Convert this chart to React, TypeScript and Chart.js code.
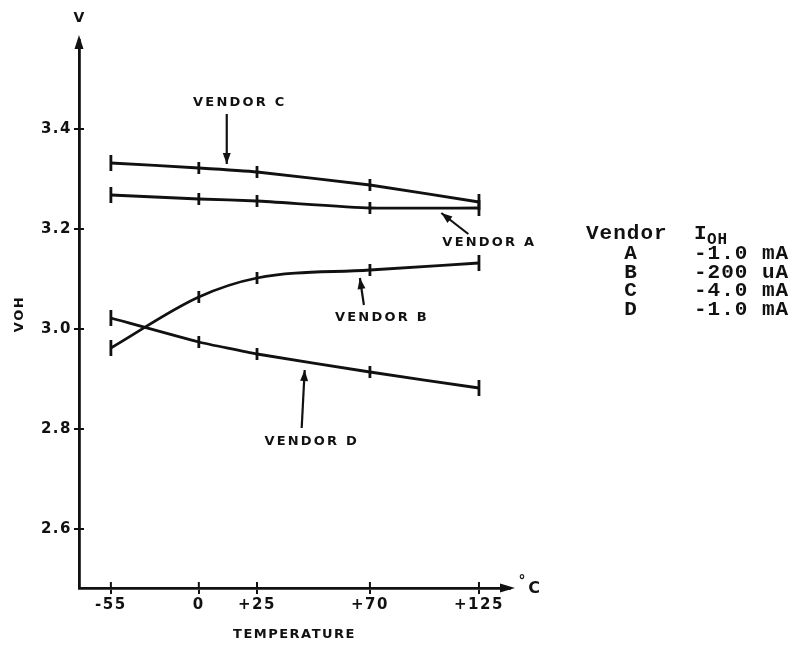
import React, { useEffect, useRef } from 'react';
import { Chart, registerables, LinearScale } from 'chart.js';

// ---------- data ----------
const TEMPERATURES = [-55, 0, 25, 70, 125];
const X_TICK_LABELS = ['-55', '0', '+25', '+70', '+125'];
const Y_TICKS = [2.6, 2.8, 3.0, 3.2, 3.4];

const VENDOR_A = [3.268, 3.26, 3.256, 3.242, 3.242];
const VENDOR_B = [2.962, 3.064, 3.102, 3.118, 3.132];
const VENDOR_C = [3.332, 3.322, 3.314, 3.288, 3.254];
const VENDOR_D = [3.022, 2.974, 2.95, 2.914, 2.882];

const CALLOUT_LABELS = ['VENDOR C', 'VENDOR A', 'VENDOR B', 'VENDOR D'];
const CALLOUT_TEMPS = [12, 106, 66, 44];
const CALLOUT_VOLTS = [3.33, 3.232, 3.102, 2.918];

const TABLE_VENDORS = ['A', 'B', 'C', 'D'];
const TABLE_IOH = ['-1.0 mA', '-200 uA', '-4.0 mA', '-1.0 mA'];

// ---------- layout / style ----------
const INK = '#111';
// where each temperature tick sits along the (hand drawn, non-uniform) axis, as a fraction of its length
const X_TICK_FRACTIONS = [0.074, 0.278, 0.413, 0.675, 0.928];
// callout geometry: offset of arrow tail and of label centre from the arrow tip (px)
const CALLOUT_LAYOUT = [
  { tail: [0, -50], text: [12, -61] },
  { tail: [27, 21], text: [47, 30] },
  { tail: [4, 27], text: [21, 40] },
  { tail: [-3, 58], text: [6, 72] },
];

class PiecewiseScale extends LinearScale {
  static id = 'piecewise';
  static defaults = { ...(LinearScale as any).defaults };

  toDecimal(v: number): number {
    const vals: number[] = (this.options as any).breakValues;
    const fr: number[] = (this.options as any).breakFractions;
    let i = 0;
    if (v <= vals[0]) i = 0;
    else if (v >= vals[vals.length - 1]) i = vals.length - 2;
    else while (i < vals.length - 2 && v > vals[i + 1]) i++;
    const t = (v - vals[i]) / (vals[i + 1] - vals[i]);
    return fr[i] + t * (fr[i + 1] - fr[i]);
  }

  getPixelForValue(value: number) {
    if (value === null || value === undefined || isNaN(value)) return NaN;
    return this.getPixelForDecimal(this.toDecimal(value));
  }

  getValueForPixel(pixel: number) {
    const d = this.getDecimalForPixel(pixel);
    const vals: number[] = (this.options as any).breakValues;
    const fr: number[] = (this.options as any).breakFractions;
    let i = 0;
    if (d <= fr[0]) i = 0;
    else if (d >= fr[fr.length - 1]) i = fr.length - 2;
    else while (i < fr.length - 2 && d > fr[i + 1]) i++;
    const t = (d - fr[i]) / (fr[i + 1] - fr[i]);
    return vals[i] + t * (vals[i + 1] - vals[i]);
  }
}

Chart.register(...registerables, PiecewiseScale);

const decorPlugin = {
  id: 'decor',
  beforeDraw(chart: any) {
    chart.ctx.letterSpacing = '1.5px';
  },
  afterDraw(chart: any) {
    const { ctx, chartArea } = chart;
    const xs = chart.scales.x;
    const ys = chart.scales.y;
    ctx.save();
    ctx.letterSpacing = '0px';
    ctx.fillStyle = INK;
    ctx.strokeStyle = INK;
    ctx.lineWidth = 2;

    const ax = chartArea.left;
    const ay = chartArea.bottom;

    // inner halves of the axis tick crosses
    ys.ticks.forEach((t: any) => {
      const py = ys.getPixelForValue(t.value);
      ctx.beginPath();
      ctx.moveTo(ax, py);
      ctx.lineTo(ax + 5, py);
      ctx.stroke();
    });
    xs.ticks.forEach((t: any) => {
      const px = xs.getPixelForValue(t.value);
      ctx.beginPath();
      ctx.moveTo(px, ay);
      ctx.lineTo(px, ay - 6);
      ctx.stroke();
    });

    // axis arrowheads
    ctx.beginPath();
    ctx.moveTo(ax, chartArea.top - 5);
    ctx.lineTo(ax - 4.5, chartArea.top + 9);
    ctx.lineTo(ax + 4.5, chartArea.top + 9);
    ctx.closePath();
    ctx.fill();
    ctx.beginPath();
    ctx.moveTo(chartArea.right + 5, ay);
    ctx.lineTo(chartArea.right - 10, ay - 4.5);
    ctx.lineTo(chartArea.right - 10, ay + 4.5);
    ctx.closePath();
    ctx.fill();

    // unit labels
    ctx.font = 'bold 14px "DejaVu Sans"';
    ctx.textAlign = 'center';
    ctx.textBaseline = 'middle';
    ctx.fillText('V', ax, 18);
    ctx.font = 'bold 16px "DejaVu Sans"';
    ctx.fillText('C', chartArea.right + 24, ay + 1);
    ctx.font = 'bold 14px "DejaVu Sans"';
    ctx.fillText('°', chartArea.right + 12, ay - 7);

    // callouts
    CALLOUT_LABELS.forEach((label, i) => {
      const tx = xs.getPixelForValue(CALLOUT_TEMPS[i]);
      const ty = ys.getPixelForValue(CALLOUT_VOLTS[i]);
      const lay = CALLOUT_LAYOUT[i];
      const sx = tx + lay.tail[0];
      const sy = ty + lay.tail[1];
      ctx.lineWidth = 2.2;
      ctx.beginPath();
      ctx.moveTo(sx, sy);
      ctx.lineTo(tx, ty);
      ctx.stroke();
      const ang = Math.atan2(ty - sy, tx - sx);
      const L = 11, W = 4;
      ctx.beginPath();
      ctx.moveTo(tx, ty);
      ctx.lineTo(tx - L * Math.cos(ang) + W * Math.sin(ang), ty - L * Math.sin(ang) - W * Math.cos(ang));
      ctx.lineTo(tx - L * Math.cos(ang) - W * Math.sin(ang), ty - L * Math.sin(ang) + W * Math.cos(ang));
      ctx.closePath();
      ctx.fill();
      ctx.font = 'bold 13px "DejaVu Sans"';
      ctx.letterSpacing = '2.2px';
      ctx.textAlign = 'center';
      ctx.textBaseline = 'middle';
      ctx.fillText(label, tx + lay.text[0] + 1, ty + lay.text[1]);
      ctx.letterSpacing = '0px';
    });

    // vendor / IOH table
    ctx.textBaseline = 'alphabetic';
    ctx.letterSpacing = '1px';
    ctx.font = 'bold 21px "Liberation Mono"';
    ctx.textAlign = 'left';
    ctx.fillText('Vendor', 586, 239);
    ctx.fillText('I', 694, 239);
    ctx.font = 'bold 16px "Liberation Mono"';
    ctx.fillText('OH', 707, 244);
    ctx.font = 'bold 21px "Liberation Mono"';
    TABLE_VENDORS.forEach((v, i) => {
      const by = 259 + i * 18.5;
      ctx.textAlign = 'center';
      ctx.fillText(v, 631, by);
      ctx.textAlign = 'left';
      ctx.fillText(TABLE_IOH[i], 694, by);
    });
    ctx.restore();
  },
};

function series(label: string, values: number[], smooth: boolean) {
  const last = TEMPERATURES.length - 1;
  return {
    label,
    data: TEMPERATURES.map((t, i) => ({ x: t, y: values[i] })),
    borderColor: INK,
    borderWidth: 2.8,
    fill: false,
    tension: smooth ? 0.4 : 0.15,
    cubicInterpolationMode: smooth ? 'monotone' : 'default',
    pointStyle: 'line',
    pointRotation: 90,
    pointRadius: (c: any) => (c.dataIndex === 0 || c.dataIndex === last ? 8 : 6),
    pointBorderWidth: 2.8,
    pointBorderColor: INK,
    pointBackgroundColor: INK,
    clip: false,
  };
}

export default function App() {
  const ref = useRef<HTMLCanvasElement | null>(null);

  useEffect(() => {
    document.body.style.margin = '0';
    document.body.style.background = '#fff';
    if (!ref.current) return;
    const chart = new Chart(ref.current, {
      type: 'line',
      data: {
        datasets: [
          series('Vendor A', VENDOR_A, false),
          series('Vendor B', VENDOR_B, true),
          series('Vendor C', VENDOR_C, false),
          series('Vendor D', VENDOR_D, false),
        ] as any,
      },
      options: {
        animation: false,
        responsive: false,
        devicePixelRatio: 1,
        layout: { padding: { left: 0, top: 40, right: 302, bottom: 0 } },
        plugins: { legend: { display: false }, tooltip: { enabled: false } },
        scales: {
          x: {
            type: 'piecewise' as any,
            min: -75,
            max: 140,
            breakValues: TEMPERATURES,
            breakFractions: X_TICK_FRACTIONS,
            afterBuildTicks: (s: any) => {
              s.ticks = TEMPERATURES.map((v) => ({ value: v }));
            },
            afterFit: (s: any) => {
              s.height = 59;
            },
            ticks: {
              autoSkip: false,
              maxRotation: 0,
              color: INK,
              padding: 2,
              font: { family: 'DejaVu Sans', weight: 'bold', size: 15 },
              callback: (_v: any, i: number) => X_TICK_LABELS[i],
            },
            grid: { display: true, drawOnChartArea: false, drawTicks: true, tickLength: 6, color: INK, lineWidth: 2 },
            border: { display: true, color: INK, width: 2.8 },
            title: {
              display: true,
              text: 'TEMPERATURE',
              color: INK,
              font: { family: 'DejaVu Sans', weight: 'bold', size: 13 },
              padding: { top: 0, bottom: 5 },
            },
          } as any,
          y: {
            type: 'linear',
            min: 2.482,
            max: 3.578,
            afterBuildTicks: (s: any) => {
              s.ticks = Y_TICKS.map((v) => ({ value: v }));
            },
            afterFit: (s: any) => {
              s.width = 79;
            },
            ticks: {
              color: INK,
              padding: 2,
              font: { family: 'DejaVu Sans', weight: 'bold', size: 15 },
              callback: (v: any) => Number(v).toFixed(1),
            },
            grid: { display: true, drawOnChartArea: false, drawTicks: true, tickLength: 5, color: INK, lineWidth: 2 },
            border: { display: true, color: INK, width: 2.8 },
            title: {
              display: true,
              text: 'VOH',
              color: INK,
              font: { family: 'DejaVu Sans', weight: 'bold', size: 13 },
              padding: { top: 12, bottom: 0 },
            },
          },
        },
      } as any,
      plugins: [decorPlugin],
    });
    return () => chart.destroy();
  }, []);

  return (
    <div style={{ width: 812, height: 647, background: '#fff' }}>
      <canvas ref={ref} width={812} height={647} />
    </div>
  );
}
